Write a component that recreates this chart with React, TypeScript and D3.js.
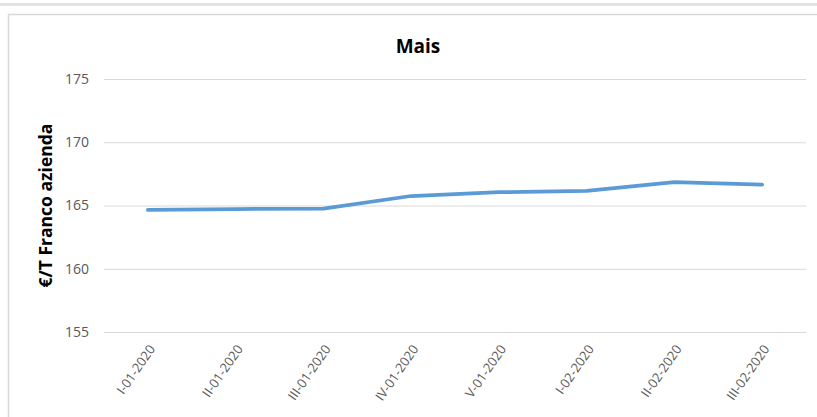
import { useEffect, useRef } from "react";
import { select, scaleBand, scaleLinear, axisLeft, axisBottom, line as d3line } from "d3";

const categories = [
  "I-01-2020",
  "II-01-2020",
  "III-01-2020",
  "IV-01-2020",
  "V-01-2020",
  "I-02-2020",
  "II-02-2020",
  "III-02-2020",
];
const prices = [164.65, 164.72, 164.75, 165.75, 166.05, 166.15, 166.85, 166.65];
const yTicks = [155, 160, 165, 170, 175];

const WIDTH = 817;
const HEIGHT = 417;
const FONT = "'Open Sans', 'DejaVu Sans', sans-serif";

function MaisChart() {
  const svgRef = useRef<SVGSVGElement>(null);

  useEffect(() => {
    const svg = select(svgRef.current);
    svg.selectAll("*").remove();

    const plot = { left: 104, right: 806, top: 79, bottom: 332 };

    // --- frame ---
    svg
      .append("rect")
      .attr("x", 0)
      .attr("y", 0)
      .attr("width", WIDTH)
      .attr("height", HEIGHT)
      .attr("fill", "#ffffff");
    svg
      .append("rect")
      .attr("x", 0)
      .attr("y", 3)
      .attr("width", WIDTH)
      .attr("height", 3)
      .attr("fill", "#e3e3e3");
    svg
      .append("rect")
      .attr("x", 8.5)
      .attr("y", 14.5)
      .attr("width", WIDTH + 20)
      .attr("height", HEIGHT + 20)
      .attr("fill", "none")
      .attr("stroke", "#d9d9d9")
      .attr("stroke-width", 1.5);

    const x = scaleBand<string>()
      .domain(categories)
      .range([plot.left, plot.right])
      .padding(0);
    const y = scaleLinear()
      .domain([155, 175])
      .range([plot.bottom, plot.top]);

    // --- y axis + gridlines ---
    svg
      .append("g")
      .attr("transform", `translate(${plot.left},0)`)
      .call(
        axisLeft(y)
          .tickValues(yTicks)
          .tickSize(-(plot.right - plot.left))
          .tickPadding(15),
      )
      .call((sel) => sel.select(".domain").remove())
      .call((sel) => sel.selectAll(".tick line").attr("stroke", "#d9d9d9").attr("stroke-width", 1.2))
      .call((sel) =>
        sel
          .selectAll(".tick text")
          .attr("fill", "#595959")
          .attr("font-size", 14)
          .attr("font-family", FONT),
      );

    // --- x axis labels ---
    svg
      .append("g")
      .attr("transform", `translate(0,${plot.bottom})`)
      .call(axisBottom(x).tickSize(0).tickPadding(0))
      .call((sel) => sel.select(".domain").remove())
      .call((sel) =>
        sel
          .selectAll(".tick text")
          .attr("fill", "#595959")
          .attr("font-size", 13)
          .attr("font-family", FONT)
          .attr("text-anchor", "end")
          .attr("dy", 0)
          .attr("y", 0)
          .attr("transform", "translate(8,17) rotate(-55)"),
      );

    // --- series line ---
    const lineGen = d3line<number>()
      .x((_, i) => (x(categories[i]) ?? 0) + x.bandwidth() / 2)
      .y((d) => y(d));

    svg
      .append("path")
      .datum(prices)
      .attr("fill", "none")
      .attr("stroke", "#5b9bd5")
      .attr("stroke-width", 3.75)
      .attr("stroke-linejoin", "round")
      .attr("stroke-linecap", "round")
      .attr("d", lineGen);

    // --- titles ---
    svg
      .append("text")
      .attr("x", 418)
      .attr("y", 53)
      .attr("text-anchor", "middle")
      .attr("font-family", FONT)
      .attr("font-weight", "bold")
      .attr("font-size", 19)
      .attr("fill", "#000000")
      .text("Mais");

    svg
      .append("text")
      .attr("transform", `translate(52,${(plot.top + plot.bottom) / 2}) rotate(-90)`)
      .attr("text-anchor", "middle")
      .attr("font-family", FONT)
      .attr("font-weight", "bold")
      .attr("font-size", 17.5)
      .attr("fill", "#000000")
      .text("€/T Franco azienda");
  }, []);

  return (
    <svg
      ref={svgRef}
      width={WIDTH}
      height={HEIGHT}
      style={{ position: "absolute", left: 0, top: 0 }}
    />
  );
}

export default function App() {
  return <MaisChart />;
}
